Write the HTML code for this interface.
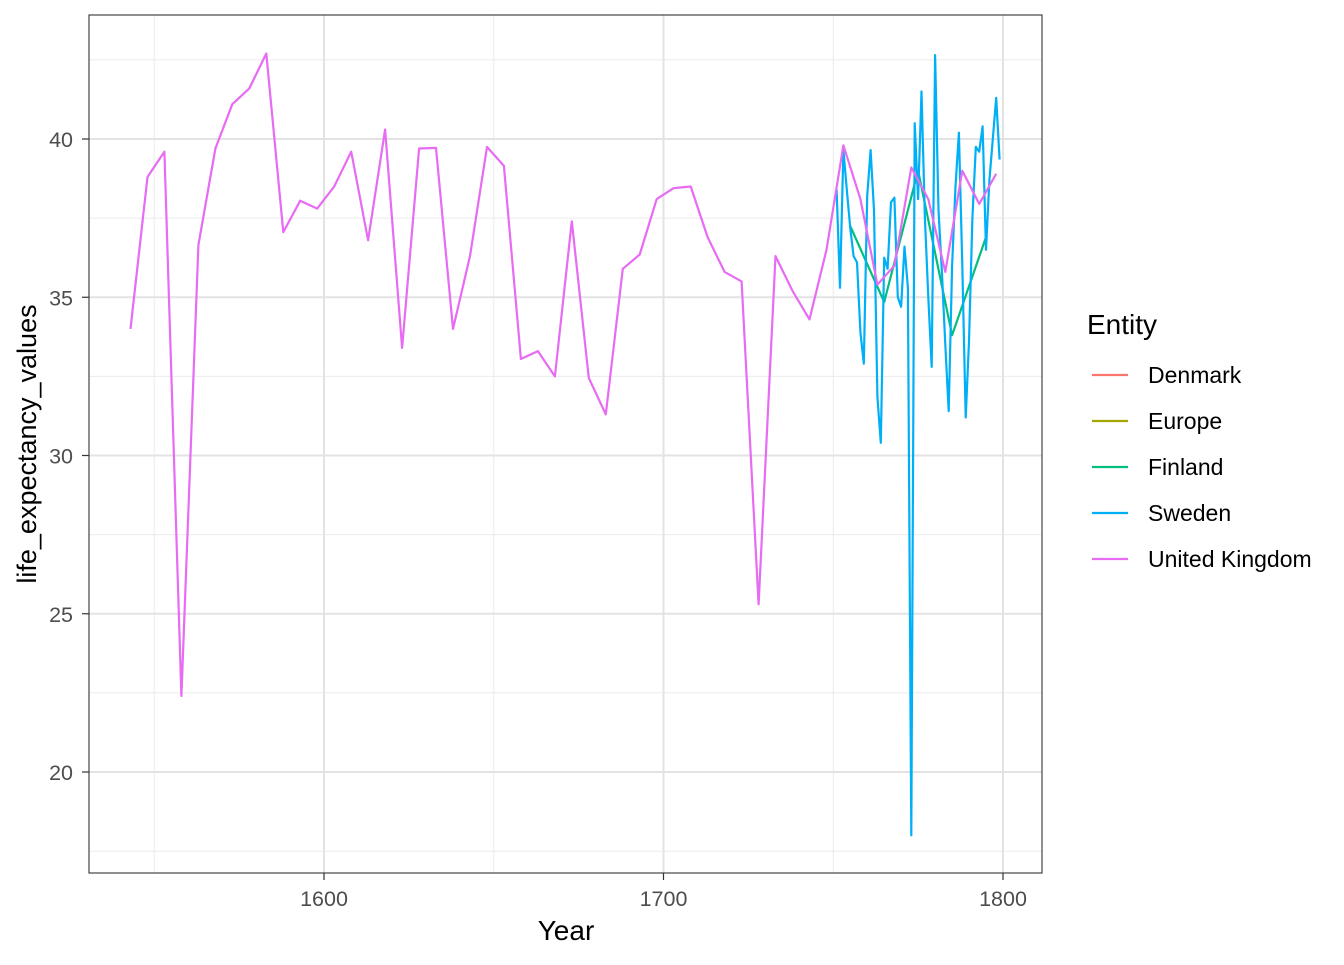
<!DOCTYPE html>
<html><head><meta charset="utf-8"><style>
html,body{margin:0;padding:0;background:#fff;}
svg text{font-family:"Liberation Sans",Arial,sans-serif;}
</style></head><body>
<svg id="chart" width="1344" height="960" xmlns="http://www.w3.org/2000/svg">
<rect width="1344" height="960" fill="#fff"/>
<g id="grid"></g>
<g id="series"></g>
<rect x="89" y="15" width="953" height="858" fill="none" stroke="#333" stroke-width="1.1"/>
<g id="axes"></g>
<text x="566" y="940" font-size="28" text-anchor="middle" fill="#000">Year</text>
<text transform="translate(36,444) rotate(-90)" font-size="27" text-anchor="middle" fill="#000">life_expectancy_values</text>
<g id="legend">
<text x="1087" y="334" font-size="28" fill="#000">Entity</text>
</g>
</svg>
<script>
const entities = ["Denmark","Europe","Finland","Sweden","United Kingdom"];
const colors = ["#F8766D","#A3A500","#00BF7D","#00B0F6","#E76BF3"];
const xTicks = [1600,1700,1800];
const xMinor = [1550,1650,1750];
const yTicks = [20,25,30,35,40];
const yMinor = [17.5,22.5,27.5,32.5,37.5,42.5];
const ukYears = [1543,1548,1553,1558,1563,1568,1573,1578,1583,1588,1593,1598,1603,1608,1613,1618,1623,1628,1633,1638,1643,1648,1653,1658,1663,1668,1673,1678,1683,1688,1693,1698,1703,1708,1713,1718,1723,1728,1733,1738,1743,1748,1753,1758,1763,1768,1773,1778,1783,1788,1793,1798];
const ukValues = [34.0,38.8,39.6,22.4,36.65,39.7,41.1,41.6,42.7,37.06,38.05,37.8,38.5,39.6,36.8,40.3,33.4,39.7,39.72,34.0,36.3,39.75,39.15,33.05,33.3,32.5,37.4,32.45,31.3,35.9,36.35,38.1,38.45,38.5,36.9,35.8,35.5,25.3,36.3,35.2,34.3,36.5,39.8,38.1,35.4,36.0,39.1,38.1,35.8,39.0,37.95,38.9];
const seYears = [1751,1752,1753,1754,1755,1756,1757,1758,1759,1760,1761,1762,1763,1764,1765,1766,1767,1768,1769,1770,1771,1772,1773,1774,1775,1776,1777,1778,1779,1780,1781,1782,1783,1784,1785,1786,1787,1788,1789,1790,1791,1792,1793,1794,1795,1796,1797,1798,1799];
const seValues = [38.4,35.3,39.65,38.4,37.2,36.3,36.1,33.9,32.9,38.2,39.65,37.75,31.85,30.4,36.25,35.9,38.0,38.15,35.0,34.7,36.6,35.3,18.0,40.5,38.1,41.5,37.5,35.0,32.8,42.65,37.75,35.8,33.5,31.4,36.0,38.5,40.2,36.0,31.2,33.6,37.5,39.75,39.6,40.4,36.5,38.7,40.0,41.3,39.35];
const fiYears = [1755,1765,1775,1785,1795];
const fiValues = [37.25,34.85,39.0,33.8,36.9];
const dkYears = [], dkValues = [], euYears = [], euValues = [];

const NS="http://www.w3.org/2000/svg";
const X0=89,X1=1042,Y0=15,Y1=873;
function xs(v){return 324+(v-1600)*3.395;}
function ys(v){return 139+(40-v)*31.65;}
function mk(tag,attrs,parent){const e=document.createElementNS(NS,tag);for(const k in attrs)e.setAttribute(k,attrs[k]);parent.appendChild(e);return e;}
const grid=document.getElementById('grid'),axes=document.getElementById('axes'),ser=document.getElementById('series'),leg=document.getElementById('legend');
yMinor.forEach(v=>{const l=mk('line',{x1:X0,x2:X1,y1:ys(v),y2:ys(v),stroke:'#ebebeb','stroke-width':1},grid);

});
xMinor.forEach(v=>{const l=mk('line',{x1:xs(v),x2:xs(v),y1:Y0,y2:Y1,stroke:'#ebebeb','stroke-width':1},grid);

});
yTicks.forEach(v=>{const l=mk('line',{x1:X0,x2:X1,y1:ys(v),y2:ys(v),stroke:'#e3e3e3','stroke-width':2},grid);


const t=mk('line',{x1:X0-7,x2:X0,y1:ys(v),y2:ys(v),stroke:'#333','stroke-width':1.2},axes);


const tx=mk('text',{x:X0-16,y:ys(v)+8,'font-size':21.5,'text-anchor':'end',fill:'#4d4d4d'},axes);tx.textContent=v;

});
xTicks.forEach(v=>{const l=mk('line',{x1:xs(v),x2:xs(v),y1:Y0,y2:Y1,stroke:'#e3e3e3','stroke-width':2},grid);


const t=mk('line',{x1:xs(v),x2:xs(v),y1:Y1,y2:Y1+7,stroke:'#333','stroke-width':1.2},axes);


const tx=mk('text',{x:xs(v),y:906,'font-size':21.5,'text-anchor':'middle',fill:'#4d4d4d'},axes);tx.textContent=v;

});
const data=[[dkYears,dkValues],[euYears,euValues],[fiYears,fiValues],[seYears,seValues],[ukYears,ukValues]];
data.forEach((d,i)=>{if(!d[0].length)return;
const p=mk('polyline',{points:d[0].map((y,j)=>xs(y).toFixed(1)+','+ys(d[1][j]).toFixed(1)).join(' '),fill:'none',stroke:colors[i],'stroke-width':2.2,'stroke-linejoin':'round'},ser);

});
entities.forEach((n,i)=>{const y=375+i*46;
const l=mk('line',{x1:1092,x2:1128,y1:y,y2:y,stroke:colors[i],'stroke-width':2.2},leg);


const t=mk('text',{x:1148,y:y+8,'font-size':23,fill:'#000'},leg);t.textContent=n;

});
</script>
</body></html>
